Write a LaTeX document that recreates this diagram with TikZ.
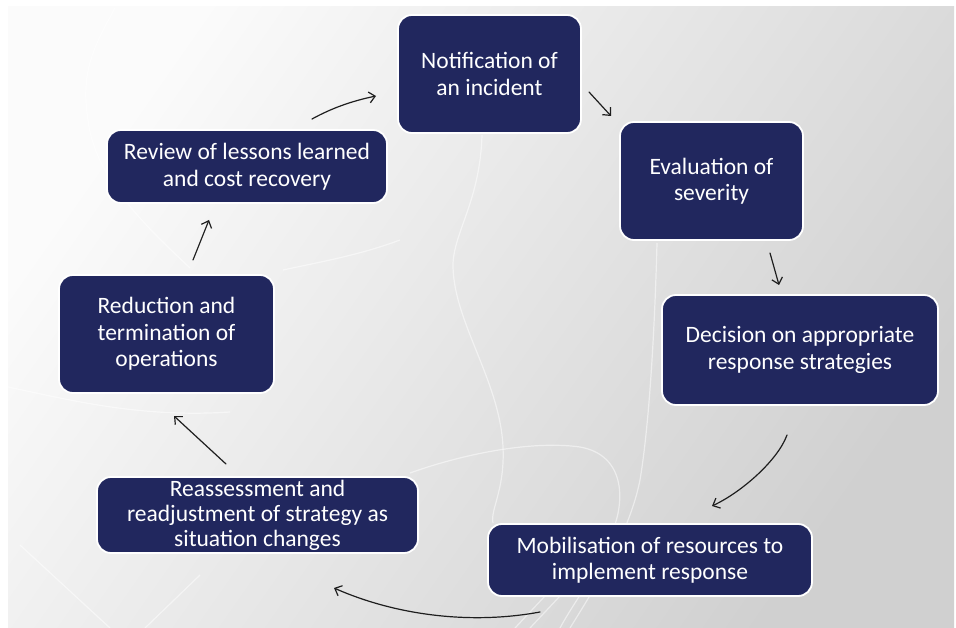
\documentclass[tikz,border=0pt]{standalone}
\usepackage{fontspec}
\setmainfont{Carlito}
\usetikzlibrary{arrows.meta}
\definecolor{navy}{RGB}{33,39,94}
\definecolor{bgA}{RGB}{251,251,251}
\definecolor{bgB}{RGB}{208,208,208}
\definecolor{arr}{RGB}{30,30,30}
\tikzset{
  stepbox/.style={draw=white, line width=1.8pt, fill=navy, rounded corners=14pt,
    text=white, align=center, inner sep=0pt,
    font=\fontsize{23.5}{26.5}\selectfont},
  flow/.style={draw=arr, line width=1.2pt, line cap=round,
    -{Straight Barb[length=6pt,width=11pt,line width=1.2pt]}},
  deco/.style={draw=white, line width=1.2pt, opacity=0.5}
}
\begin{document}
\begin{tikzpicture}[x=1pt,y=-1pt]
\useasboundingbox (0,0) rectangle (956,628);
\fill[white] (0,0) rectangle (956,628);
\shade[top color=bgA, bottom color=bgB, shading angle=55] (8,7) rectangle (954,628);
% faint background curves
\draw[deco] (115,8) .. controls (95,45) and (80,70) .. (88,120) .. controls (95,180) and (150,230) .. (190,268);
\draw[deco] (482,135) .. controls (480,200) and (455,230) .. (453,263) .. controls (452,320) and (500,380) .. (503,447) .. controls (505,490) and (490,510) .. (493,523);
\draw[deco] (410,473) .. controls (460,455) and (530,440) .. (580,447) .. controls (625,455) and (625,500) .. (613,530) .. controls (600,570) and (575,600) .. (560,628);
\draw[deco] (657,243) .. controls (655,320) and (650,420) .. (640,480) .. controls (630,530) and (600,580) .. (570,628);
\draw[deco] (8,387) .. controls (70,400) and (140,418) .. (230,412);
\draw[deco] (283,270) .. controls (320,262) and (360,255) .. (400,240);
\draw[deco] (20,545) -- (110,628);
\draw[deco] (145,628) -- (200,575);
\draw[deco] (515,628) -- (545,596);
\draw[deco] (530,628) -- (560,596);
% steps
\node[stepbox, minimum width=183pt, minimum height=118pt] (notif) at (489.5,74) {Notification of\\an incident};
\node[stepbox, minimum width=183pt, minimum height=118pt] (eval) at (711.5,181) {Evaluation of\\severity};
\node[stepbox, minimum width=276pt, minimum height=110pt] (dec) at (800,350) {Decision on appropriate\\response strategies};
\node[stepbox, minimum width=324pt, minimum height=72pt] (mob) at (650,560) {Mobilisation of resources to\\implement response};
\node[stepbox, minimum width=321pt, minimum height=76pt, font=\fontsize{23.5}{25}\selectfont] (reas) at (257.5,515) {Reassessment and\\readjustment of strategy as\\situation changes};
\node[stepbox, minimum width=215pt, minimum height=118pt] (red) at (166.5,334) {Reduction and\\termination of\\operations};
\node[stepbox, minimum width=280pt, minimum height=73pt] (rev) at (247,166.5) {Review of lessons learned\\and cost recovery};
% connector end points
\coordinate (revOut) at (312,119);  \coordinate (notIn) at (376,96);
\coordinate (notOut) at (589,92);   \coordinate (evaIn) at (611,116);
\coordinate (evaOut) at (770,253);  \coordinate (decIn) at (779,285);
\coordinate (decOut) at (787,435);  \coordinate (mobIn) at (712,506);
\coordinate (mobOut) at (540,612);  \coordinate (reaIn) at (334,588);
\coordinate (reaOut) at (226,464);  \coordinate (redIn) at (174,416);
\coordinate (redOut) at (193,260);  \coordinate (revIn) at (209,220);
\draw[flow] (revOut) .. controls (332,108) and (352,101) .. (notIn);
\draw[flow] (notOut) -- (evaIn);
\draw[flow] (evaOut) -- (decIn);
\draw[flow] (decOut) .. controls (778,460) and (742,492) .. (mobIn);
\draw[flow] (mobOut) .. controls (470,625) and (395,615) .. (reaIn);
\draw[flow] (reaOut) -- (redIn);
\draw[flow] (redOut) -- (revIn);
\end{tikzpicture}
\end{document}
